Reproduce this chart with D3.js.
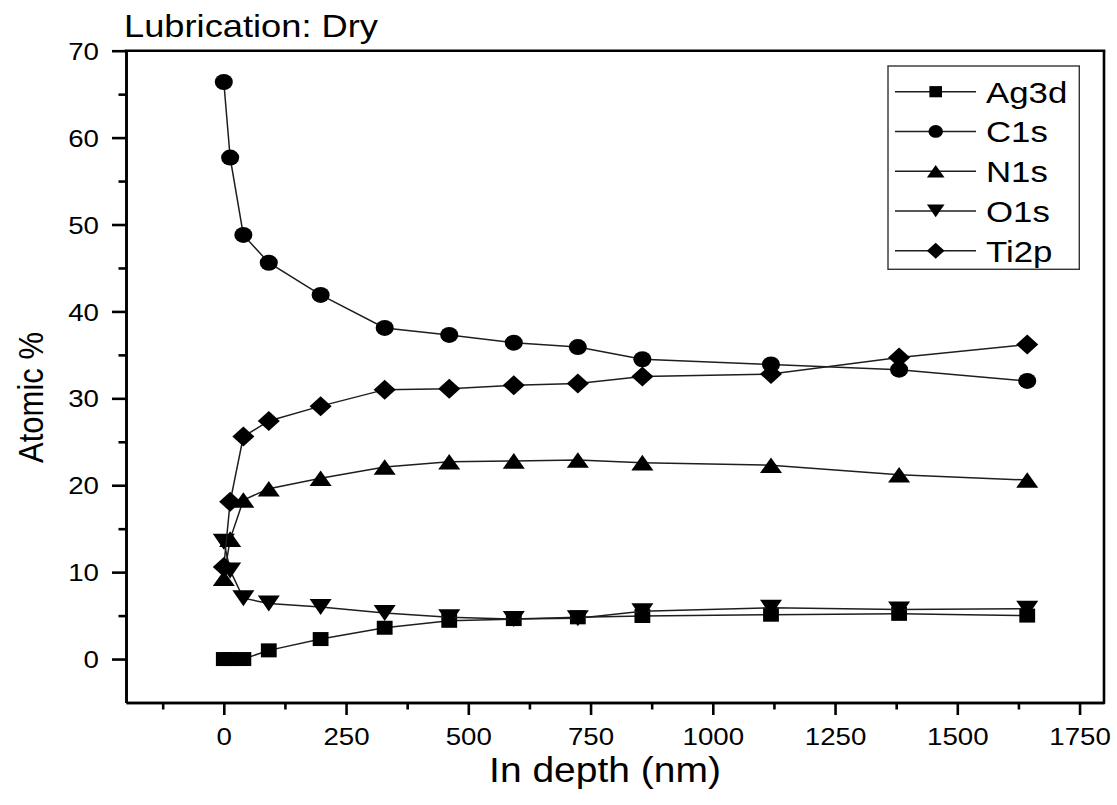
<!DOCTYPE html>
<html>
<head>
<meta charset="utf-8">
<script src="https://cdn.jsdelivr.net/npm/d3@7/dist/d3.min.js"></script>
<style>
  html, body { margin: 0; padding: 0; background: #fff; }
  svg { display: block; font-family: Arial, "Liberation Sans", Helvetica, sans-serif; }
</style>
</head>
<body>
<svg id="chart" width="1117" height="805"></svg>
<script>
// XPS depth profile: atomic concentration vs. sputter depth
const depth = [0, 13, 40, 92, 198, 329, 461, 593, 724, 856, 1119, 1381, 1643];
const ag3d  = [0, 0, 0, 1.0, 2.3, 3.6, 4.4, 4.6, 4.8, 4.95, 5.1, 5.2, 5.0];
const c1s   = [66.4, 57.7, 48.8, 45.6, 41.9, 38.1, 37.3, 36.4, 35.9, 34.5, 33.9, 33.3, 32.0];
const n1s   = [9.3, 13.8, 18.3, 19.6, 20.8, 22.1, 22.7, 22.8, 22.9, 22.6, 22.3, 21.2, 20.6];
const o1s   = [13.5, 10.2, 7.0, 6.4, 6.0, 5.3, 4.8, 4.6, 4.7, 5.5, 5.9, 5.7, 5.8];
const ti2p  = [10.6, 18.1, 25.6, 27.4, 29.1, 31.0, 31.1, 31.5, 31.7, 32.5, 32.8, 34.7, 36.2];

const seriesNames = ["Ag3d", "C1s", "N1s", "O1s", "Ti2p"];
const seriesValues = [ag3d, c1s, n1s, o1s, ti2p];
const seriesSymbols = ["square", "circle", "triangleUp", "triangleDown", "diamond"];

const xMajorTicks = [0, 250, 500, 750, 1000, 1250, 1500, 1750];
const xMinorTicks = [-125, 125, 375, 625, 875, 1125, 1375, 1625];
const yMajorTicks = [0, 10, 20, 30, 40, 50, 60, 70];
const yMinorTicks = [5, 15, 25, 35, 45, 55, 65];

const titleText = "Lubrication: Dry";
const xTitle = "In depth (nm)";
const yTitle = "Atomic %";

// horizontal stretch applied to glyphs and symbols
const SX = 1.13;

const svg = d3.select("#chart");
const plotLeft = 126, plotRight = 1104, plotTop = 50.7, plotBottom = 702.5;

const x = d3.scaleLinear().domain([-200, 1800]).range([plotLeft, plotRight]);
const y = d3.scaleLinear().domain([-5, 70]).range([plotBottom, plotTop]);

// symbol outlines, centred on their bounding box
function symbolPath(type, k) {
  const p = d3.path();
  if (type === "square") {
    const h = 7 * k;
    p.rect(-h, -h, 2 * h, 2 * h);
  } else if (type === "circle") {
    const r = 8 * k;
    p.arc(0, 0, r, 0, 2 * Math.PI);
  } else if (type === "triangleUp") {
    const w = 9.75 * k, h = 7.8 * k;
    p.moveTo(0, -h); p.lineTo(w, h); p.lineTo(-w, h); p.closePath();
  } else if (type === "triangleDown") {
    const w = 9.75 * k, h = 8 * k;
    p.moveTo(-w, -h); p.lineTo(w, -h); p.lineTo(0, h); p.closePath();
  } else if (type === "diamond") {
    const w = 9.75 * k, h = 10 * k;
    p.moveTo(0, -h); p.lineTo(w, 0); p.lineTo(0, h); p.lineTo(-w, 0); p.closePath();
  }
  return p.toString();
}

// data lines and markers
const line = d3.line().x((d, i) => x(depth[i])).y(d => y(d));
const plot = svg.append("g");
seriesValues.forEach((vals, si) => {
  const g = plot.append("g");
  g.append("path")
    .attr("d", line(vals))
    .attr("fill", "none")
    .attr("stroke", "#1e1e1e")
    .attr("stroke-width", 1.5);
  g.selectAll("path.m")
    .data(vals)
    .join("path")
    .attr("class", "m")
    .attr("d", symbolPath(seriesSymbols[si], 1))
    .attr("transform", (d, i) => `translate(${x(depth[i])},${y(d)}) scale(${SX},1)`)
    .attr("fill", "#000");
});

// axes
const axisStroke = 2.6;
const gx = svg.append("g").attr("transform", `translate(0,${plotBottom})`);
gx.call(d3.axisBottom(x).tickValues(xMajorTicks).tickSize(12.5).tickSizeOuter(0).tickFormat(d3.format("d")));
const gxm = svg.append("g").attr("transform", `translate(0,${plotBottom})`);
gxm.call(d3.axisBottom(x).tickValues(xMinorTicks).tickSize(7).tickSizeOuter(0).tickFormat(""));

const gy = svg.append("g").attr("transform", `translate(${plotLeft},0)`);
gy.call(d3.axisLeft(y).tickValues(yMajorTicks).tickSize(14).tickSizeOuter(0).tickFormat(d3.format("d")));
const gym = svg.append("g").attr("transform", `translate(${plotLeft},0)`);
gym.call(d3.axisLeft(y).tickValues(yMinorTicks).tickSize(7.5).tickSizeOuter(0).tickFormat(""));

[gx, gxm, gy, gym].forEach(g => {
  g.select(".domain").attr("stroke", "#000").attr("stroke-width", axisStroke);
  g.selectAll(".tick line").attr("stroke", "#000").attr("stroke-width", axisStroke);
});

gx.selectAll(".tick text")
  .attr("y", 42.5).attr("dy", 0)
  .attr("transform", `scale(${SX},1)`)
  .attr("font-size", 24.5).attr("fill", "#000")
  .attr("font-family", "Arial, 'Liberation Sans', sans-serif");
gy.selectAll(".tick text")
  .attr("x", -27 / SX).attr("dy", "0.35em")
  .attr("transform", `scale(${SX},1)`)
  .attr("font-size", 24.5).attr("fill", "#000")
  .attr("font-family", "Arial, 'Liberation Sans', sans-serif");

// frame: top and right edges
svg.append("line").attr("x1", plotLeft - axisStroke / 2).attr("x2", plotRight + axisStroke / 2)
  .attr("y1", plotTop).attr("y2", plotTop).attr("stroke", "#000").attr("stroke-width", axisStroke);
svg.append("line").attr("x1", plotRight).attr("x2", plotRight)
  .attr("y1", plotTop).attr("y2", plotBottom + axisStroke / 2).attr("stroke", "#000").attr("stroke-width", axisStroke);

// titles
svg.append("text")
  .attr("x", 124).attr("y", 37.3)
  .attr("font-size", 30.5)
  .attr("textLength", 254).attr("lengthAdjust", "spacingAndGlyphs")
  .attr("fill", "#000")
  .text(titleText);

svg.append("text")
  .attr("transform", `translate(605,781.7) scale(${SX},1)`)
  .attr("text-anchor", "middle")
  .attr("font-size", 34.5)
  .attr("fill", "#000")
  .text(xTitle);

svg.append("text")
  .attr("transform", `translate(42.7,397.5) scale(${SX},1) rotate(-90)`)
  .attr("text-anchor", "middle")
  .attr("font-size", 31)
  .attr("fill", "#000")
  .text(yTitle);

// legend
const legend = svg.append("g");
legend.append("rect")
  .attr("x", 888).attr("y", 66)
  .attr("width", 1079.3 - 888).attr("height", 269.3 - 66)
  .attr("fill", "#fff").attr("stroke", "#333").attr("stroke-width", 1.4);
const legendY = d3.scalePoint().domain(seriesNames).range([91.7, 250.7]);
seriesNames.forEach((name, i) => {
  const cy = legendY(name);
  legend.append("line")
    .attr("x1", 895).attr("x2", 976).attr("y1", cy).attr("y2", cy)
    .attr("stroke", "#1e1e1e").attr("stroke-width", 1.5);
  legend.append("path")
    .attr("d", symbolPath(seriesSymbols[i], 0.8))
    .attr("transform", `translate(935.7,${cy}) scale(${SX},1)`)
    .attr("fill", "#000");
  legend.append("text")
    .attr("transform", `translate(986,${cy + 11}) scale(1.2,1)`)
    .attr("font-size", 29)
    .attr("fill", "#000")
    .text(name);
});
</script>
</body>
</html>
